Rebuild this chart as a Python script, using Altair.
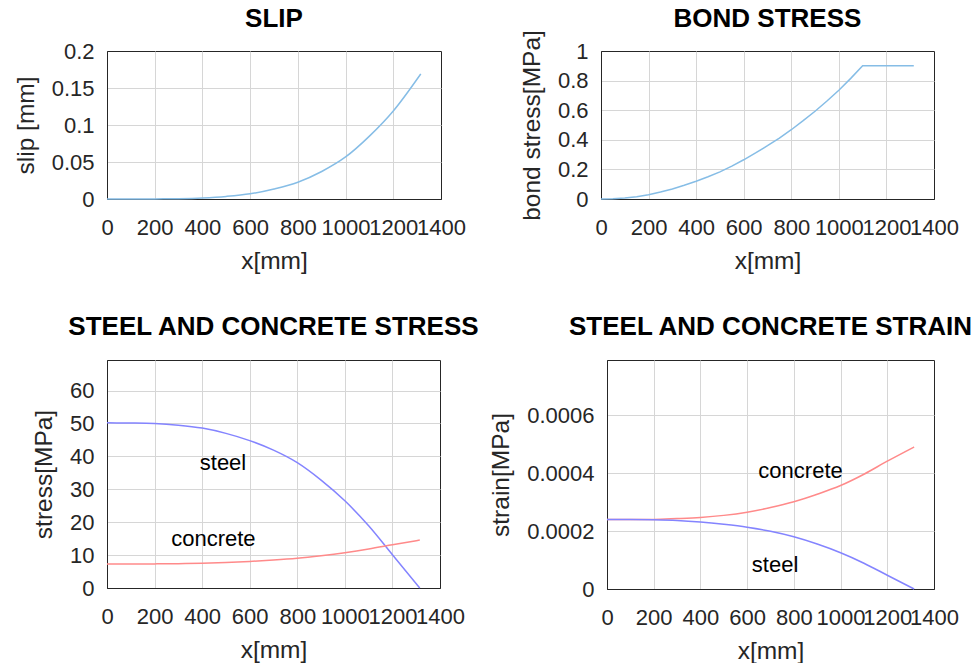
import altair as alt
import pandas as pd

# ---------------- data ----------------
x_mm = [0, 100, 200, 300, 400, 500, 600, 700, 800, 900, 1000, 1100, 1200, 1315]
slip_mm = [0, 0.000005, 0.00009, 0.0005, 0.0015, 0.0035, 0.0070, 0.0136, 0.0227,
           0.0372, 0.0568, 0.0850, 0.1190, 0.1690]

bond_x = [0, 50, 100, 150, 200, 250, 300, 350, 400, 450, 500, 550, 600, 650, 700,
          750, 800, 850, 900, 950, 1000, 1050, 1100, 1315]
bond_mpa = [0, 0.002, 0.007, 0.016, 0.029, 0.047, 0.068, 0.093, 0.120, 0.150, 0.183,
            0.222, 0.265, 0.311, 0.360, 0.412, 0.468, 0.529, 0.593, 0.662, 0.735,
            0.815, 0.900, 0.900]

steel_stress = [50.2, 50.15, 50.0, 49.5, 48.6, 47.0, 44.8, 41.9, 38.1, 32.8, 26.5,
                18.9, 10.1, 0.0]
concrete_stress = [7.3, 7.3, 7.33, 7.4, 7.53, 7.77, 8.09, 8.51, 9.06, 9.83, 10.74,
                   11.84, 13.12, 14.58]

steel_strain = [0.00024, 0.00024, 0.000239, 0.0002365, 0.000231, 0.000223, 0.000213,
                0.000199, 0.00018, 0.000155, 0.000125, 0.000089, 0.0000475, 0.0]
concrete_strain = [0.00024, 0.00024, 0.00024, 0.000243, 0.000247, 0.000254, 0.000265,
                   0.000281, 0.000301, 0.000327, 0.000357, 0.000396, 0.000441, 0.00049]

stress_labels = ["steel", "concrete"]
stress_label_x = [390, 270]
stress_label_y = [38, 15]

strain_labels = ["concrete", "steel"]
strain_label_x = [648, 620]
strain_label_y = [0.000408, 0.000083]

x_ticks = [0, 200, 400, 600, 800, 1000, 1200, 1400]
slip_ticks = [0, 0.05, 0.1, 0.15, 0.2]
bond_ticks = [0, 0.2, 0.4, 0.6, 0.8, 1]
stress_ticks = [0, 10, 20, 30, 40, 50, 60]
strain_ticks = [0, 0.0002, 0.0004, 0.0006]

# ---------------- styling ----------------
FONT = "Liberation Sans"
TOP_BLUE = "#86bde6"
STEEL = "#8484ff"
CONCRETE = "#ff8a8a"
AX = "#262626"


def grid_cond(lo, hi):
    return {"condition": {"test": f"datum.value <= {lo} || datum.value >= {hi}", "value": 0},
            "value": 1}


X_SCALE = alt.Scale(domain=[0, 1400], nice=False)
X_AXIS = alt.Axis(values=x_ticks, format="d", title="x[mm]",
                  labelPadding=18, titlePadding=11, gridOpacity=grid_cond(0, 1400))


def xq(field="x"):
    return alt.X(f"{field}:Q", scale=X_SCALE, axis=X_AXIS)


def title(t, dy):
    return alt.TitleParams(text=t, font=FONT, fontSize=26, fontWeight="bold",
                           color="black", frame="group", baseline="alphabetic",
                           offset=23, dy=dy)


df_slip = pd.DataFrame({"x": x_mm, "v": slip_mm})
df_bond = pd.DataFrame({"x": bond_x, "v": bond_mpa})
df_stress = pd.DataFrame({"x": x_mm, "steel": steel_stress, "concrete": concrete_stress})
df_strain = pd.DataFrame({"x": x_mm, "steel": steel_strain, "concrete": concrete_strain})
df_stress_lab = pd.DataFrame({"x": stress_label_x, "y": stress_label_y, "t": stress_labels})
df_strain_lab = pd.DataFrame({"x": strain_label_x, "y": strain_label_y, "t": strain_labels})

slip = alt.Chart(df_slip).mark_line(color=TOP_BLUE, strokeWidth=1.5, interpolate="monotone").encode(
    x=xq(),
    y=alt.Y("v:Q", scale=alt.Scale(domain=[0, 0.2], nice=False),
            axis=alt.Axis(values=slip_ticks, format="~g", title="slip [mm]",
                          gridOpacity=grid_cond(0, 0.2))),
).properties(width=334, height=148, title=title("SLIP", 36))

bond = alt.Chart(df_bond).mark_line(color=TOP_BLUE, strokeWidth=1.5).encode(
    x=xq(),
    y=alt.Y("v:Q", scale=alt.Scale(domain=[0, 1], nice=False),
            axis=alt.Axis(values=bond_ticks, format="~g", title="bond stress[MPa]",
                          gridOpacity=grid_cond(0, 1))),
).properties(width=333, height=148, title=title("BOND STRESS", 46))

# stress panel (all layers share the same scale / axis definitions)
YS_STRESS = alt.Scale(domain=[0, 69.3], nice=False)
YA_STRESS = alt.Axis(values=stress_ticks, format="d", title="stress[MPa]",
                     gridOpacity=grid_cond(0, 70))


def ys(field):
    return alt.Y(f"{field}:Q", scale=YS_STRESS, axis=YA_STRESS)


stress_base = alt.Chart(df_stress)
stress = alt.layer(
    stress_base.mark_line(color=STEEL, strokeWidth=1.5, interpolate="monotone").encode(
        x=xq(), y=ys("steel")),
    stress_base.mark_line(color=CONCRETE, strokeWidth=1.5, interpolate="monotone").encode(
        x=xq(), y=ys("concrete")),
    alt.Chart(df_stress_lab).mark_text(font=FONT, fontSize=22, align="left",
                                       baseline="middle", color="black").encode(
        x=xq(), y=ys("y"), text="t:N"),
).properties(width=333, height=228, title=title("STEEL AND CONCRETE STRESS", 23.5))

# strain panel
YS_STRAIN = alt.Scale(domain=[0, 0.00079], nice=False)
YA_STRAIN = alt.Axis(values=strain_ticks, format="~g", title="strain[MPa]",
                     gridOpacity=grid_cond(0, 0.001))


def ye(field):
    return alt.Y(f"{field}:Q", scale=YS_STRAIN, axis=YA_STRAIN)


strain_base = alt.Chart(df_strain)
strain = alt.layer(
    strain_base.mark_line(color=CONCRETE, strokeWidth=1.5, interpolate="monotone").encode(
        x=xq(), y=ye("concrete")),
    strain_base.mark_line(color=STEEL, strokeWidth=1.5, interpolate="monotone").encode(
        x=xq(), y=ye("steel")),
    alt.Chart(df_strain_lab).mark_text(font=FONT, fontSize=22, align="left",
                                       baseline="middle", color="black").encode(
        x=xq(), y=ye("y"), text="t:N"),
).properties(width=327, height=229, title=title("STEEL AND CONCRETE STRAIN", 23.5))

top = alt.hconcat(slip, bond, spacing=160, bounds="flush")
bottom = alt.hconcat(stress, strain, spacing=167, bounds="flush")

chart = alt.vconcat(top, bottom, spacing=40).properties(
    padding={"left": 12, "top": 5, "right": 0, "bottom": 0},
    background="white",
).configure_axis(
    labelFont=FONT, labelFontSize=22, labelColor=AX, labelPadding=13,
    labelOverlap=False, labelFlush=False,
    titleFont=FONT, titleFontSize=24.5, titleFontWeight="normal", titleColor=AX,
    titlePadding=13,
    gridColor="#d6d6d6", gridWidth=1, domainColor=AX, ticks=False, tickSize=0,
).configure_view(stroke=AX, strokeWidth=1)

chart.save("out.html", embed_options={"renderer": "svg", "actions": False})
